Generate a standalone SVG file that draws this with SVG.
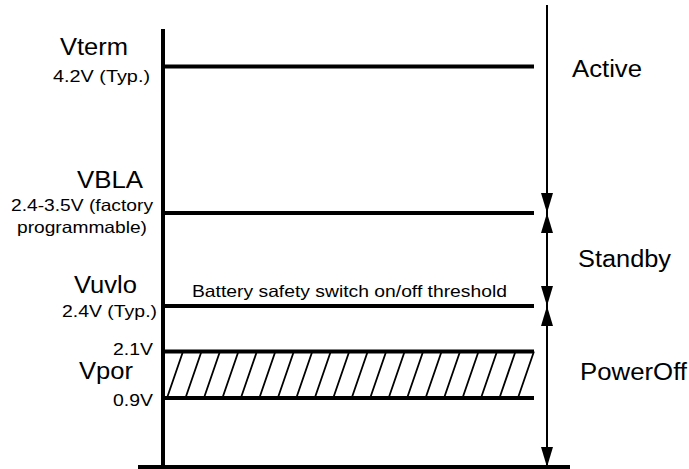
<svg xmlns="http://www.w3.org/2000/svg" width="689" height="469" viewBox="0 0 689 469">
<defs>
<style>
text{font-family:"Liberation Sans",Arial,Helvetica,sans-serif;fill:#000}
.big{font-size:23.5px}
.small{font-size:16.5px}
.lvl{stroke:#000;stroke-width:4;fill:none}
.hatch{stroke:#000;stroke-width:1.8;fill:none}
.arr{stroke:#000;stroke-width:2;fill:none;marker-end:url(#ah)}
.arr2{stroke:#000;stroke-width:2;fill:none;marker-start:url(#ah);marker-end:url(#ah)}
</style>
<marker id="ah" viewBox="0 0 20 12" refX="20" refY="6" markerWidth="20" markerHeight="12" markerUnits="userSpaceOnUse" orient="auto-start-reverse">
<path d="M0,0 L20,6 L0,12 Z" fill="#000"/>
</marker>
</defs>
<rect width="689" height="469" fill="#fff"/>

<g id="axis">
<line class="lvl" x1="163" y1="29" x2="163" y2="467"/>
<line class="lvl" x1="138" y1="467" x2="570" y2="467"/>
</g>

<g id="vterm">
<line class="lvl" x1="163" y1="66.5" x2="534" y2="66.5"/>
<text class="big" x="60" y="54.5" textLength="68" lengthAdjust="spacingAndGlyphs">Vterm</text>
<text class="small" x="53" y="82" textLength="97" lengthAdjust="spacingAndGlyphs">4.2V (Typ.)</text>
</g>

<g id="vbla">
<line class="lvl" x1="163" y1="213" x2="534" y2="213"/>
<text class="big" x="77" y="188" textLength="66" lengthAdjust="spacingAndGlyphs">VBLA</text>
<text class="small" x="11" y="211" textLength="142" lengthAdjust="spacingAndGlyphs">2.4-3.5V (factory</text>
<text class="small" x="17" y="233" textLength="130" lengthAdjust="spacingAndGlyphs">programmable)</text>
</g>

<g id="vuvlo">
<line class="lvl" x1="163" y1="306" x2="534" y2="306"/>
<text class="big" x="74" y="293" textLength="63" lengthAdjust="spacingAndGlyphs">Vuvlo</text>
<text class="small" x="62" y="317" textLength="95" lengthAdjust="spacingAndGlyphs">2.4V (Typ.)</text>
<text class="small" x="192" y="297" textLength="315" lengthAdjust="spacingAndGlyphs">Battery safety switch on/off threshold</text>
</g>

<g id="vpor">
<line class="lvl" x1="163" y1="351.5" x2="534" y2="351.5"/>
<line class="lvl" x1="163" y1="398" x2="534" y2="398"/>
<path class="hatch" d="M167,398 l16,-46.5 M185.47,398 l16,-46.5 M203.94,398 l16,-46.5 M222.41,398 l16,-46.5 M240.88,398 l16,-46.5 M259.35,398 l16,-46.5 M277.82,398 l16,-46.5 M296.29,398 l16,-46.5 M314.76,398 l16,-46.5 M333.23,398 l16,-46.5 M351.7,398 l16,-46.5 M370.17,398 l16,-46.5 M388.64,398 l16,-46.5 M407.11,398 l16,-46.5 M425.58,398 l16,-46.5 M444.05,398 l16,-46.5 M462.52,398 l16,-46.5 M480.99,398 l16,-46.5 M499.46,398 l16,-46.5 M517.93,398 l16,-46.5"/>
<text class="small" x="113" y="355" textLength="40" lengthAdjust="spacingAndGlyphs">2.1V</text>
<text class="big" x="79" y="378.5" textLength="54" lengthAdjust="spacingAndGlyphs">Vpor</text>
<text class="small" x="113" y="405.5" textLength="40" lengthAdjust="spacingAndGlyphs">0.9V</text>
</g>

<g id="states">
<text class="big" x="572" y="76.7" textLength="70" lengthAdjust="spacingAndGlyphs">Active</text>
<text class="big" x="578" y="266.7" textLength="93" lengthAdjust="spacingAndGlyphs">Standby</text>
<text class="big" x="580" y="380" textLength="107" lengthAdjust="spacingAndGlyphs">PowerOff</text>
</g>

<g id="connectors">
<line class="arr" x1="547" y1="5" x2="547" y2="213"/>
<line class="arr2" x1="547" y1="213" x2="547" y2="306"/>
<line class="arr2" x1="547" y1="306" x2="547" y2="467"/>
</g>
</svg>
